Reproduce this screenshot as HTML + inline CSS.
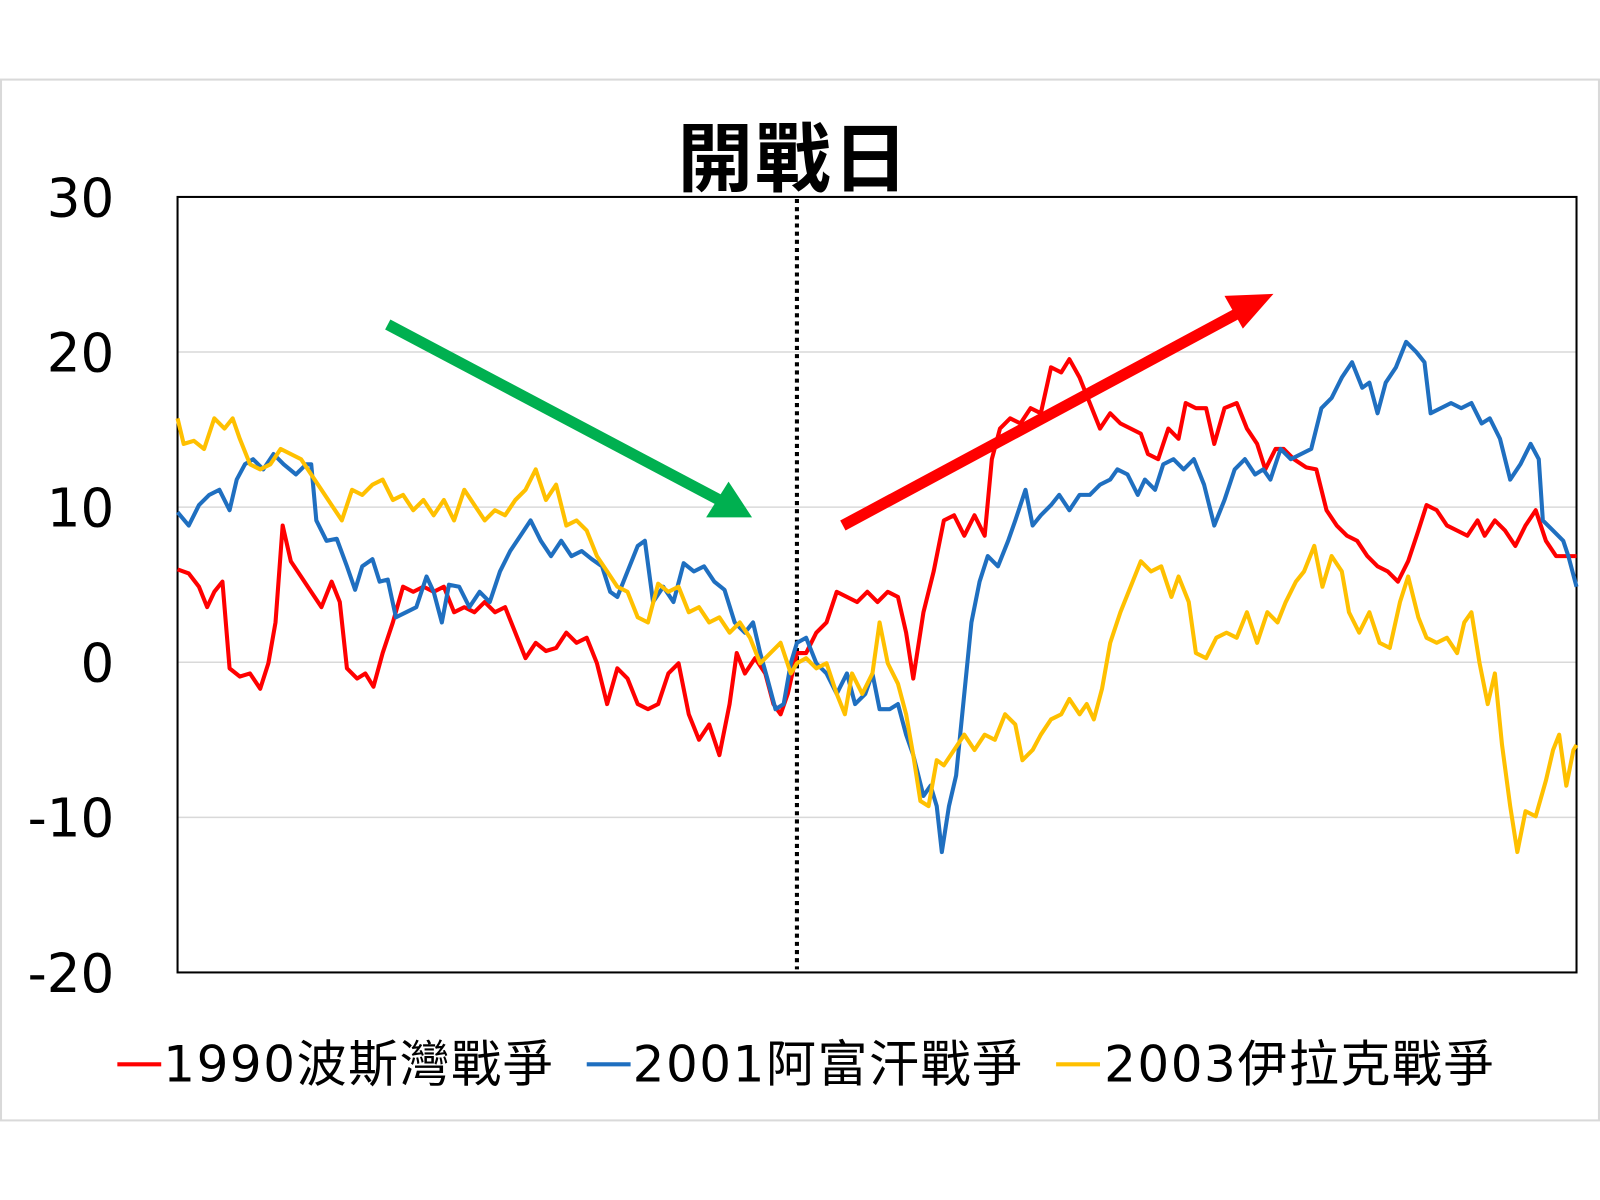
<!DOCTYPE html>
<html><head><meta charset="utf-8"><style>
html,body{margin:0;padding:0;background:#fff;width:1600px;height:1200px;overflow:hidden}
text{font-family:"DejaVu Sans","Noto Sans CJK TC",sans-serif;fill:#000}
</style></head><body>
<svg width="1600" height="1200" viewBox="0 0 1600 1200" xmlns="http://www.w3.org/2000/svg">
<g transform="scale(1.0204)">
<rect x="1" y="78" width="1566" height="1020" fill="#fff" stroke="#d9d9d9" stroke-width="2"/>
<g stroke="#d9d9d9" stroke-width="1.5">
<line x1="174" y1="345" x2="1545" y2="345"/><line x1="174" y1="497" x2="1545" y2="497"/>
<line x1="174" y1="649" x2="1545" y2="649"/><line x1="174" y1="801" x2="1545" y2="801"/>
</g>
<rect x="174" y="193" width="1371" height="760" fill="none" stroke="#000" stroke-width="2"/>
<g font-size="52" text-anchor="end">
<text x="112" y="212">30</text><text x="112" y="364">20</text><text x="112" y="516">10</text>
<text x="112" y="668">0</text><text x="112" y="820">-10</text><text x="112" y="972">-20</text>
</g>
<text x="778" y="182" font-size="74" font-weight="600" text-anchor="middle" letter-spacing="2" style="font-family:'Noto Sans CJK TC',sans-serif">開戰日</text>
<line x1="781" y1="195" x2="781" y2="950" stroke="#000" stroke-width="4" stroke-dasharray="4,4"/>
<g fill="none" stroke-width="4" stroke-linejoin="round">
<polyline stroke="#ff0000" points="174,558 185,562 195,575 203,595 210,580 218,570 225,655 235,663 245,660 255,675 263,650 270,610 277,515 285,550 295,565 305,580 315,595 325,570 333,590 340,655 350,665 358,660 366,673 375,640 385,610 395,575 405,580 415,575 425,580 435,575 445,600 455,595 465,600 475,590 485,600 495,595 505,620 515,645 525,630 535,638 545,635 555,620 565,630 575,625 585,650 595,690 605,655 615,665 625,690 635,695 645,690 655,660 665,650 675,700 685,725 695,710 705,740 715,690 722,640 730,660 740,645 750,660 758,690 765,700 772,680 781,640 790,640 800,620 810,610 820,580 830,585 840,590 850,580 860,590 870,580 880,585 888,620 895,665 905,600 915,560 925,510 935,505 945,525 955,505 965,525 972,450 980,420 990,410 1000,415 1010,400 1020,405 1030,360 1040,365 1048,352 1058,370 1068,395 1078,420 1088,405 1098,415 1108,420 1118,425 1125,445 1135,450 1145,420 1155,430 1162,395 1172,400 1182,400 1190,435 1200,400 1212,395 1222,420 1232,435 1240,460 1250,440 1258,440 1268,450 1280,458 1290,460 1300,500 1310,515 1320,525 1330,530 1340,545 1350,555 1360,560 1370,570 1380,550 1390,520 1398,495 1408,500 1418,515 1428,520 1438,525 1448,510 1455,525 1465,510 1475,520 1485,535 1495,515 1505,500 1515,530 1525,545 1535,545 1545,545"/>
<polyline stroke="#1f6fc0" points="174,502 185,515 195,495 205,485 215,480 225,500 232,470 240,455 248,450 258,460 268,445 278,455 290,465 300,455 305,455 310,510 320,530 330,528 340,555 348,578 355,555 365,548 372,570 380,568 388,605 398,600 408,595 418,565 425,580 433,610 440,573 450,575 460,595 470,580 480,590 490,560 500,540 510,525 520,510 530,530 540,545 550,530 560,545 570,540 580,548 590,555 598,580 605,585 615,560 625,535 632,530 640,590 650,575 660,590 670,552 680,560 690,555 700,570 710,578 720,610 730,620 738,610 745,640 752,665 760,695 768,690 775,650 781,630 790,625 800,650 810,660 820,680 830,660 838,690 848,680 855,660 862,695 872,695 880,690 888,720 895,740 905,780 912,770 918,790 923,835 930,790 937,760 945,680 952,610 960,570 968,545 978,555 988,530 995,510 1005,480 1012,515 1020,505 1030,495 1038,485 1048,500 1058,485 1068,485 1078,475 1088,470 1095,460 1105,465 1115,485 1122,470 1132,480 1140,455 1150,450 1160,460 1170,450 1180,475 1190,515 1200,490 1210,460 1220,450 1230,465 1238,460 1245,470 1255,440 1265,450 1275,445 1285,440 1295,400 1305,390 1315,370 1325,355 1335,380 1342,375 1350,405 1358,375 1368,360 1378,335 1388,345 1396,355 1402,405 1412,400 1422,395 1432,400 1442,395 1452,415 1460,410 1470,430 1480,470 1490,455 1500,435 1508,450 1512,510 1522,520 1532,530 1537,545 1545,575"/>
<polyline stroke="#ffc000" points="174,410 180,435 190,432 200,440 210,410 220,420 228,410 235,430 245,455 255,460 265,455 275,440 285,445 295,450 305,465 315,480 325,495 335,510 345,480 355,485 365,475 375,470 385,490 395,485 405,500 415,490 425,505 435,490 445,510 455,480 465,495 475,510 485,500 495,505 505,490 515,480 525,460 535,490 545,475 555,515 565,510 575,520 585,545 595,560 605,575 615,580 625,605 635,610 645,572 655,580 665,575 675,600 685,595 695,610 705,605 715,620 725,610 735,625 745,650 755,640 765,630 775,660 781,650 790,645 800,655 810,650 820,680 828,700 835,660 845,680 855,660 862,610 870,650 880,670 888,700 895,740 902,785 910,790 918,745 925,750 935,735 945,720 955,735 965,720 975,725 985,700 995,710 1002,745 1012,735 1020,720 1030,705 1040,700 1048,685 1058,700 1065,690 1072,705 1080,675 1088,630 1098,600 1108,575 1118,550 1128,560 1138,555 1148,585 1155,565 1165,590 1172,640 1182,645 1192,625 1202,620 1212,625 1222,600 1232,630 1242,600 1252,610 1260,590 1270,570 1278,560 1288,535 1296,575 1305,545 1315,560 1322,600 1332,620 1342,600 1352,630 1362,635 1372,590 1380,565 1390,605 1398,625 1408,630 1418,625 1428,640 1435,610 1442,600 1450,650 1458,690 1465,660 1472,730 1480,790 1487,835 1495,795 1505,800 1515,765 1522,735 1528,720 1535,770 1542,735 1545,730"/>
</g>
<line x1="380" y1="318" x2="705" y2="490" stroke="#00b050" stroke-width="11"/>
<polygon points="737,507 692,507 714,472" fill="#00b050"/>
<line x1="826" y1="515" x2="1215" y2="306" stroke="#ff0000" stroke-width="11"/>
<polygon points="1248,288 1218,322 1200,290" fill="#ff0000"/>
<g stroke-width="4">
<line x1="115" y1="1043" x2="158" y2="1043" stroke="#ff0000"/>
<line x1="575" y1="1043" x2="618" y2="1043" stroke="#1f6fc0"/>
<line x1="1035" y1="1043" x2="1078" y2="1043" stroke="#ffc000"/>
</g>
<g font-size="49" letter-spacing="1.5">
<text x="160" y="1060">1990波斯灣戰爭</text>
<text x="620" y="1060">2001阿富汗戰爭</text>
<text x="1082" y="1060">2003伊拉克戰爭</text>
</g>
</g>
</svg>
</body></html>
